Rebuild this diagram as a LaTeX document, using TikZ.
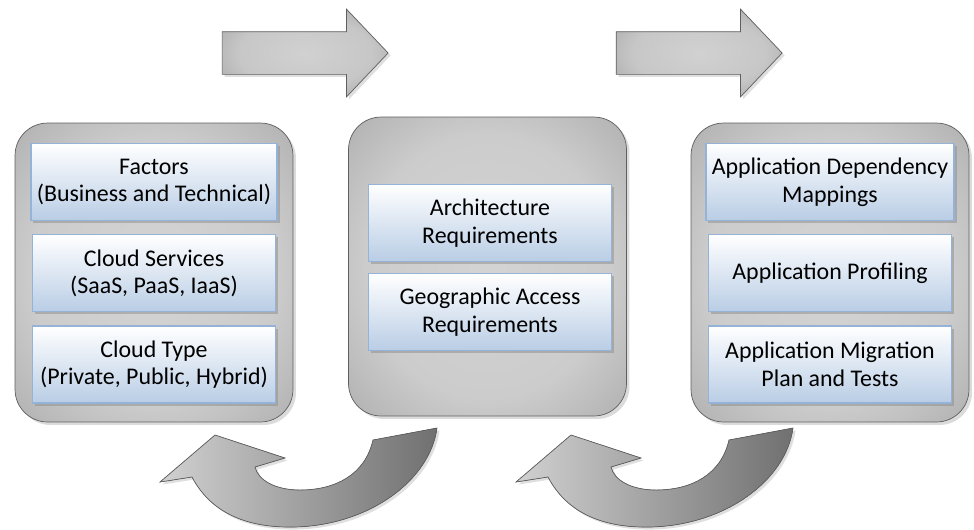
\documentclass[tikz,border=0pt]{standalone}
\usepackage{fontspec}
\setmainfont{Carlito}
\usepackage{xcolor}
\definecolor{Steel Blue}{HTML}{95B3D7}
\colorlet{cFrame}{Steel Blue}
\definecolor{Pale Blue}{HTML}{B9CDE5}
\colorlet{cPale}{Pale Blue}
\definecolor{Slate}{HTML}{5F5F5F}
\colorlet{cEdge}{Slate}
\usepackage{tikz}
\usetikzlibrary{positioning, shapes.arrows, shadows}
\pgfdeclareradialshading{stageshade}{\pgfpoint{0bp}{0bp}}{%
	color(0bp)=(black!17); color(22bp)=(black!20); color(42bp)=(black!36); color(71bp)=(black!62)}
\pgfdeclareradialshading{flowshade}{\pgfpoint{0bp}{0bp}}{%
	color(0bp)=(black!18); color(20bp)=(black!22); color(48bp)=(black!48); color(71bp)=(black!60)}
\tikzset{
	node distance = .26cm,
	line width = .6pt,
	font = \fontsize{13.6}{15.8}\selectfont,
	stage/.style={
		draw=cEdge,
		rounded corners=.65cm,
		minimum width=5.56cm,
		minimum height=5.98cm,
		shading=stageshade,
		drop shadow={shadow xshift=.06cm, shadow yshift=-.06cm, fill=black!28}
	},
	task/.style={
		draw=cFrame,
		line width=.8pt,
		top color=white,
		bottom color=cPale,
		minimum width=4.86cm,
		minimum height=1.54cm,
		align=center,
		drop shadow={shadow xshift=.05cm, shadow yshift=-.05cm, fill=black!45}
	},
	flow/.style={
		single arrow,
		draw=cEdge,
		inner xsep=0pt,
		inner ysep=.42cm,
		minimum height=3.32cm,
		single arrow head extend=.45cm,
		single arrow tip angle=93,
		shading=flowshade,
		drop shadow={shadow xshift=.05cm, shadow yshift=-.05cm, fill=black!25}
	},
	backflow/.style={
		draw=cEdge,
		left color=black!18,
		middle color=black!20,
		right color=black!56,
		drop shadow={shadow xshift=.05cm, shadow yshift=-.05cm, fill=black!25}
	}
}

\begin{document}
\begin{tikzpicture}[x=.02cm, y=-.02cm]
	\useasboundingbox (0,0) rectangle (974,529);
	\node[stage] (plan) at (154,272.5) {};
	\node[stage] (design) at (487.5,266.5) {};
	\node[stage] (migrate) at (830,272.5) {};
	\node[task, below=.4cm of plan.north] (factors) {Factors\\(Business and Technical)};
	\node[task, below=of factors] (services) {Cloud Services\\(SaaS, PaaS, IaaS)};
	\node[task, below=of services] (type) {Cloud Type\\(Private, Public, Hybrid)};
	\node[task, below=1.34cm of design.north, xshift=.05cm] (arch) {Architecture\\Requirements};
	\node[task, below=.22cm of arch] (geo) {Geographic Access\\Requirements};
	\node[task, below=.4cm of migrate.north] (deps) {Application Dependency\\Mappings};
	\node[task, below=of deps] (profile) {Application Profiling};
	\node[task, below=of profile] (tests) {Application Migration\\Plan and Tests};
	\node[flow] (ahead) at (295,53) {};
	\node[flow] (onward) at (689,53) {};
	\foreach \dx in {0,356} {
		\filldraw[backflow, shift={(\dx,0)}] (215,435) -- (285,458) -- (255,467)
			.. controls (258,480) and (275,490) .. (300,490)
			.. controls (335,490) and (365,475) .. (373,440)
			-- (437,428)
			.. controls (430,480) and (370,525) .. (295,527)
			.. controls (250,528) and (212,515) .. (192,477)
			-- (160,482) -- cycle;
	}
\end{tikzpicture}
\end{document}
